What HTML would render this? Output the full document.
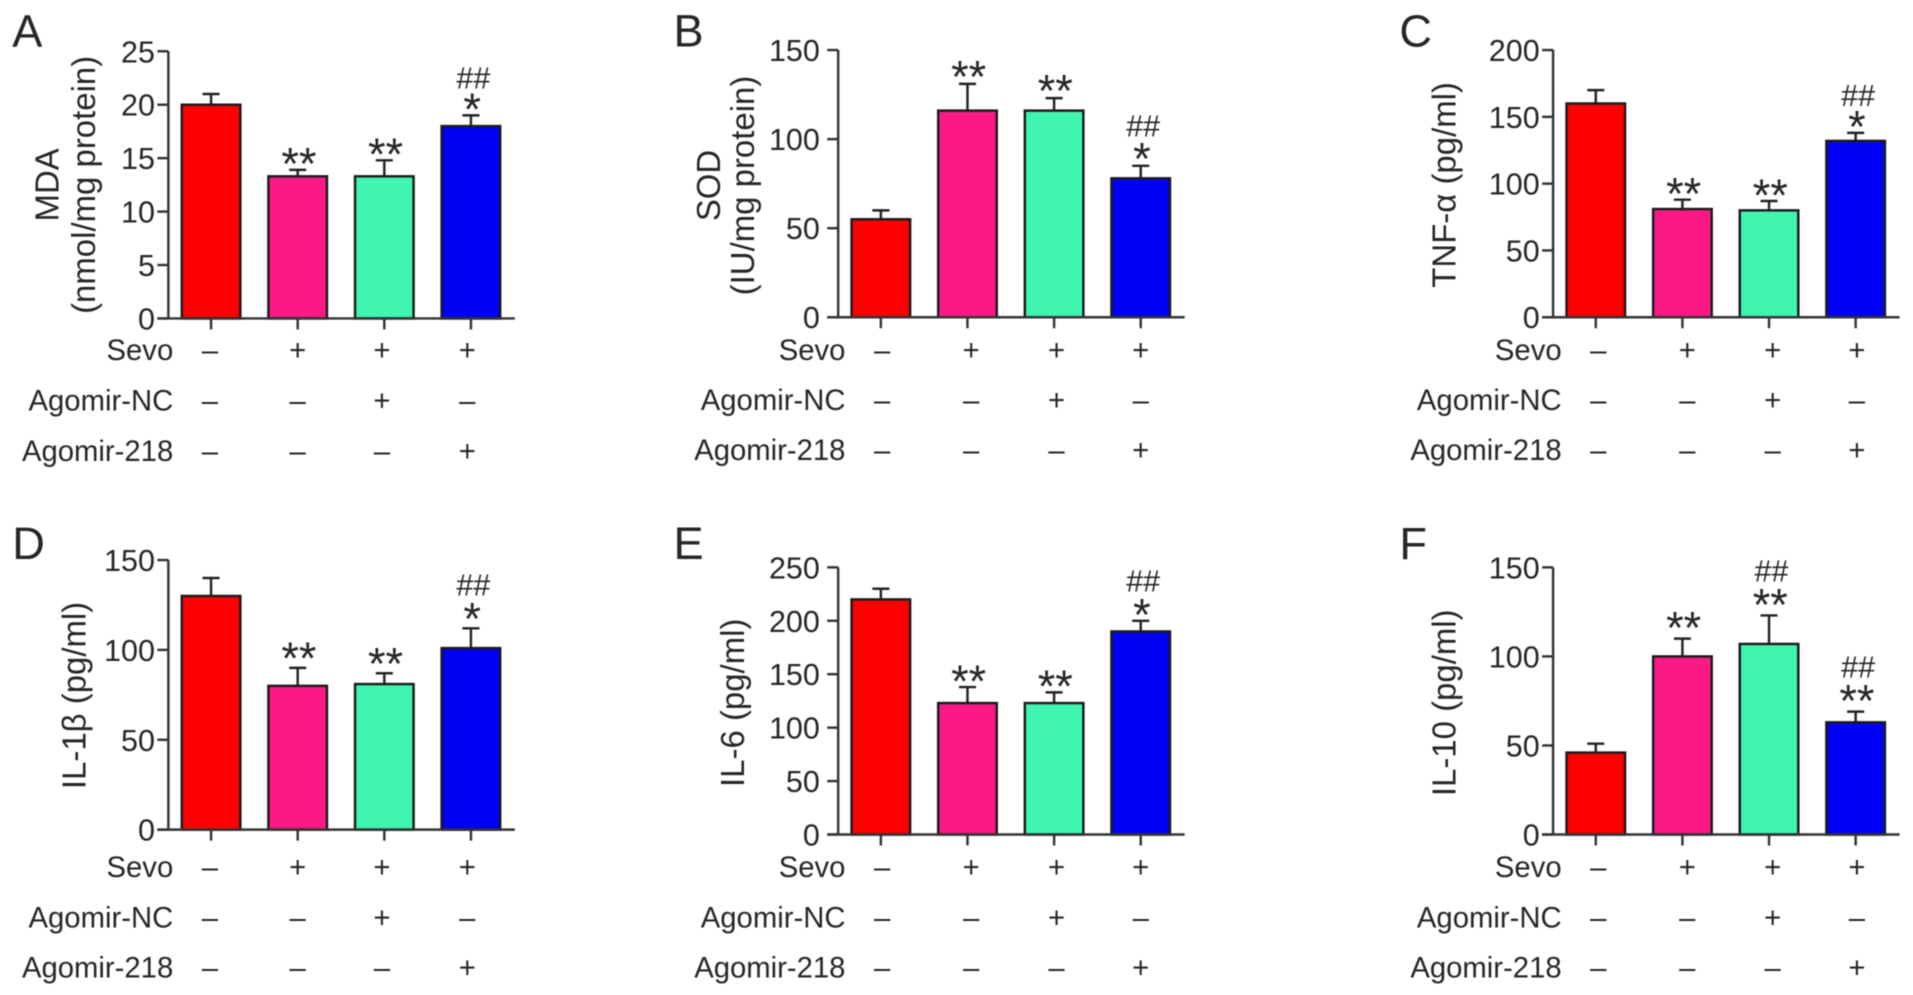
<!DOCTYPE html>
<html lang="en">
<head>
<meta charset="utf-8">
<title>Sevoflurane Agomir-218 bar charts</title>
<style>
html,body{margin:0;padding:0;background:#fff;width:1913px;height:995px;overflow:hidden}
svg{display:block;filter:blur(.55px)}
text{font-family:"Liberation Sans",sans-serif;fill:#262626}
</style>
</head>
<body>
<svg id="figure" xmlns="http://www.w3.org/2000/svg" width="1913" height="995" viewBox="0 0 1568 815.5"></svg>
<script>
// Shared categories
const categories = ["Control", "Sevo", "Sevo + Agomir-NC", "Sevo + Agomir-218"];
const barColors = ["#ff0000", "#fb1a85", "#40f5b0", "#0000f5"];
const rowLabels = ["Sevo", "Agomir-NC", "Agomir-218"];
const sevoRow = ["–", "+", "+", "+"];
const agomirNcRow = ["–", "–", "+", "–"];
const agomir218Row = ["–", "–", "–", "+"];

// Panel A
const mdaValues = [20, 13.3, 13.3, 18];
const mdaErrorTops = [21, 13.9, 14.8, 19];
const mdaTicks = [0, 5, 10, 15, 20, 25];
const mdaStars = ["", "**", "**", "*"];
const mdaHashes = ["", "", "", "##"];
// Panel B
const sodValues = [55, 116, 116, 78];
const sodErrorTops = [60, 131, 123, 85];
const sodTicks = [0, 50, 100, 150];
const sodStars = ["", "**", "**", "*"];
const sodHashes = ["", "", "", "##"];
// Panel C
const tnfValues = [160, 81, 80, 132];
const tnfErrorTops = [170, 88, 87, 138];
const tnfTicks = [0, 50, 100, 150, 200];
const tnfStars = ["", "**", "**", "*"];
const tnfHashes = ["", "", "", "##"];
// Panel D
const il1Values = [130, 80, 81, 101];
const il1ErrorTops = [140, 90, 87, 112];
const il1Ticks = [0, 50, 100, 150];
const il1Stars = ["", "**", "**", "*"];
const il1Hashes = ["", "", "", "##"];
// Panel E
const il6Values = [220, 123, 123, 190];
const il6ErrorTops = [230, 138, 133, 200];
const il6Ticks = [0, 50, 100, 150, 200, 250];
const il6Stars = ["", "**", "**", "*"];
const il6Hashes = ["", "", "", "##"];
// Panel F
const il10Values = [46, 100, 107, 63];
const il10ErrorTops = [51, 110, 123, 69];
const il10Ticks = [0, 50, 100, 150];
const il10Stars = ["", "**", "**", "**"];
const il10Hashes = ["", "", "##", "##"];

const panels = [
  {id:"a", letter:"A", lx:10, ly:38, ax:138, tickGap:11, rowGap:4, marks:[34,106,175,245], top:42, bottom:261, rows:[287,328.5,370], titles:["MDA","(nmol/mg protein)"], tx:[48,78], ty:151.5, starLift:0, hashLift:0,
   v:mdaValues, e:mdaErrorTops, t:mdaTicks, s:mdaStars, h:mdaHashes},
  {id:"b", letter:"B", lx:552, ly:38, ax:687, tickGap:15, rowGap:6, marks:[36,109,179,248], top:41, bottom:260, rows:[287,328,369], titles:["SOD","(IU/mg protein)"], tx:[590,618], ty:152, starLift:1, hashLift:2,
   v:sodValues, e:sodErrorTops, t:sodTicks, s:sodStars, h:sodHashes},
  {id:"c", letter:"C", lx:1147, ly:38, ax:1273, tickGap:11, rowGap:7, marks:[37,110,180,249], top:41, bottom:260, rows:[287,328,369], titles:["TNF-α (pg/ml)"], tx:[1193], ty:151.5, starLift:0, hashLift:0,
   v:tnfValues, e:tnfErrorTops, t:tnfTicks, s:tnfStars, h:tnfHashes},
  {id:"d", letter:"D", lx:10, ly:458, ax:138, tickGap:11, rowGap:4, marks:[34,106,175,245], top:459, bottom:680, rows:[711,752,793], titles:["IL-1β (pg/ml)"], tx:[70], ty:570, starLift:3, hashLift:5,
   v:il1Values, e:il1ErrorTops, t:il1Ticks, s:il1Stars, h:il1Hashes},
  {id:"e", letter:"E", lx:552, ly:458, ax:687, tickGap:15, rowGap:6, marks:[36,109,179,248], top:465, bottom:684, rows:[711,752,793], titles:["IL-6 (pg/ml)"], tx:[610], ty:576, starLift:0, hashLift:2,
   v:il6Values, e:il6ErrorTops, t:il6Ticks, s:il6Stars, h:il6Hashes},
  {id:"f", letter:"F", lx:1147, ly:458, ax:1273, tickGap:11, rowGap:7, marks:[37,110,180,249], top:465, bottom:684, rows:[711,752,793], titles:["IL-10 (pg/ml)"], tx:[1193], ty:576, starLift:4, hashLift:6,
   v:il10Values, e:il10ErrorTops, t:il10Ticks, s:il10Stars, h:il10Hashes}
];

const NS = "http://www.w3.org/2000/svg";
const svg = document.getElementById("figure");
const AXIS = "#333333";

function mk(parent, tag, attrs) {
  const el = document.createElementNS(NS, tag);
  for (const k in attrs) el.setAttribute(k, attrs[k]);
  parent.appendChild(el);
  return el;
}
function label(parent, str, x, y, size, anchor) {
  const el = mk(parent, "text", {x:x, y:y, "font-size":size, "text-anchor":anchor});
  el.textContent = str;
  return el;
}

panels.forEach(function (p) {
  const g = mk(svg, "g", {});
  
  

  const maxTick = p.t[p.t.length - 1];
  const yScale = function (v) { return p.bottom - (v / maxTick) * (p.bottom - p.top); };
  const barX = function (i) { return p.ax + 11 + i * 71; };
  const barW = 48;

  const letter = label(g, p.letter, p.lx, p.ly, 37, "start");
  
  

  p.titles.forEach(function (title, i) {
    const tt = label(g, title, p.tx[i], p.ty, 27, "middle");
    tt.setAttribute("transform", "rotate(-90 " + p.tx[i] + " " + p.ty + ")");
    
    
  });

  p.v.forEach(function (val, i) {
    const cx = barX(i) + barW / 2;
    const errTop = yScale(p.e[i]);
    const err = mk(g, "path", {d:"M" + cx + " " + yScale(val) + "V" + errTop + "M" + (cx - 7) + " " + errTop + "H" + (cx + 7), fill:"none", stroke:"#222", "stroke-width":2});
    
    

    const bar = mk(g, "rect", {x:barX(i), y:yScale(val), width:barW, height:p.bottom - yScale(val), fill:barColors[i], stroke:"#1a1a1a", "stroke-width":2});
    
    

    const tick = mk(g, "line", {x1:cx, x2:cx, y1:p.bottom, y2:p.bottom + 9, stroke:AXIS, "stroke-width":2});
    
    

    if (p.s[i]) {
      const star = label(g, p.s[i], cx + 1, errTop + 8 - p.starLift, 37, "middle");
      
      
    }
    if (p.h[i]) {
      const hash = label(g, p.h[i], cx + 2, errTop - 22 - p.hashLift, 25, "middle");
      
      
    }

    [sevoRow, agomirNcRow, agomir218Row].forEach(function (row, r) {
      const m = label(g, row[i], p.ax + p.marks[i], p.rows[r] + 8, 24, "middle");
      
      
    });
  });

  const axes = mk(g, "path", {d:"M" + p.ax + " " + p.top + "V" + p.bottom + "M" + (p.ax - 9) + " " + p.bottom + "H" + (p.ax + 284), fill:"none", stroke:AXIS, "stroke-width":2});
  
  

  p.t.forEach(function (t) {
    const y = yScale(t);
    const tk = mk(g, "line", {x1:p.ax - 9, x2:p.ax, y1:y, y2:y, stroke:AXIS, "stroke-width":2});
    
    
    const tl = label(g, String(t), p.ax - p.tickGap, y + 9, 25, "end");
    
    
  });

  rowLabels.forEach(function (name, r) {
    const rl = label(g, name, p.ax + p.rowGap, p.rows[r] + 8, 24, "end");
    
    
  });
});
</script>
</body>
</html>
